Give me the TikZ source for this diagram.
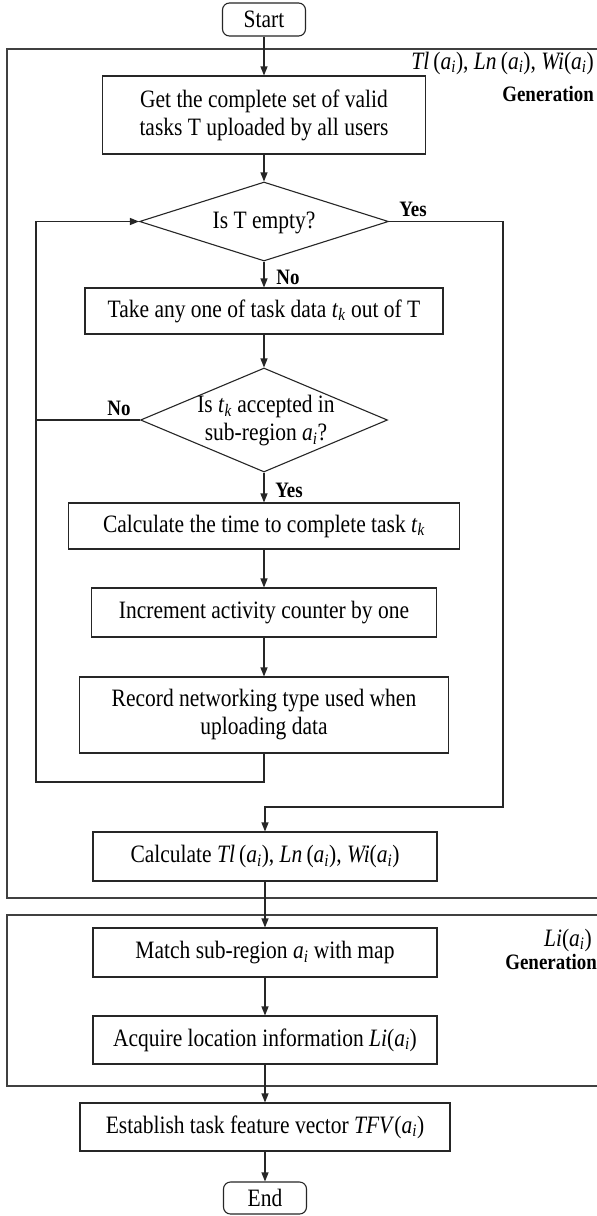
\documentclass[tikz,border=0pt]{standalone}
\usepackage{fontspec}
\setmainfont[FakeStretch=0.86]{Liberation Serif}
\usetikzlibrary{arrows.meta,shapes.geometric}
\newcommand\sv[2]{\textit{#1}\textsubscript{\textit{#2}}}
\tikzset{
  every picture/.style={line join=miter},
  box/.style={draw=black!85, line width=1.1pt, rectangle, inner sep=0pt, align=center,
    font=\fontsize{25}{28}\selectfont},
  term/.style={box, rounded corners=7pt},
  dec/.style={draw=black!85, line width=1.1pt, diamond, inner sep=0pt},
  dtext/.style={align=center, inner sep=0pt, font=\fontsize{25}{28}\selectfont},
  frame/.style={draw=black!75, line width=1.5pt},
  conn/.style={draw=black!85, line width=1.1pt},
  arr/.style={conn, -{Triangle[length=9pt,width=7pt]}},
  lab/.style={inner sep=0pt, font=\fontsize{22}{24}\selectfont\bfseries},
  rlab/.style={inner sep=0pt, anchor=east, font=\fontsize{25}{28}\selectfont},
}
\begin{document}
\begin{tikzpicture}[x=1pt,y=-1pt]
\useasboundingbox (0,0) rectangle (597,1216);
\clip (0,0) rectangle (597,1216);
\fill[white] (0,0) rectangle (597,1216);

% frames
\draw[frame] (620,49) -- (7,49) -- (7,898) -- (620,898);
\draw[frame] (620,915) -- (7,915) -- (7,1086) -- (620,1086);
\node[rlab] (fl1) at (594,63) {\textit{Tl}\,(\sv{a}{i}), \textit{Ln}\,(\sv{a}{i}), \textit{Wi}(\sv{a}{i})};
\node[rlab, font=\fontsize{22}{24}\selectfont\bfseries] (fl2) at (594,94) {Generation};
\node[rlab] (fl3) at (592,940) {\textit{Li}(\sv{a}{i})};
\node[rlab, font=\fontsize{22}{24}\selectfont\bfseries] (fl4) at (597,962) {Generation};

% nodes
\node[term, minimum width=83, minimum height=33] (start) at (264,19.5) {Start};
\node[box, minimum width=323, minimum height=78] (get) at (264,115) {Get the complete set of valid\\tasks T uploaded by all users};
\node[dec, minimum width=249, minimum height=79] (d1) at (264,221.5) {};
\node[dtext] (d1t) at (264,223) {Is T empty?};
\node[box, minimum width=358, minimum height=46] (take) at (264,311) {Take any one of task data \sv{t}{k} out of T};
\node[dec, minimum width=247, minimum height=104] (d2) at (264,420) {};
\node[dtext] (d2t) at (266,421) {Is \sv{t}{k} accepted in\\sub-region \sv{a}{i}?};
\node[box, minimum width=391, minimum height=46] (calc) at (264,526) {Calculate the time to complete task \sv{t}{k}};
\node[box, minimum width=345, minimum height=49] (inc) at (264,612.5) {Increment activity counter by one};
\node[box, minimum width=369, minimum height=76] (rec) at (264,715) {Record networking type used when\\uploading data};
\node[box, minimum width=344, minimum height=49] (ctl) at (265,856.5) {Calculate \textit{Tl}\,(\sv{a}{i}), \textit{Ln}\,(\sv{a}{i}), \textit{Wi}(\sv{a}{i})};
\node[box, minimum width=344, minimum height=49] (match) at (265,952.5) {Match sub-region \sv{a}{i} with map};
\node[box, minimum width=344, minimum height=48] (acq) at (265,1040) {Acquire location information \textit{Li}(\sv{a}{i})};
\node[box, minimum width=370, minimum height=48] (est) at (265,1127) {Establish task feature vector \textit{TFV}(\sv{a}{i})};
\node[term, minimum width=83, minimum height=32] (end) at (265,1198) {End};

% helper coordinates
\coordinate (lb) at (36,782);
\coordinate (yr) at (503,807);

% connectors
\draw[arr] (start.south) -- (get.north);
\draw[arr] (get.south) -- (d1.north);
\draw[arr] (d1.south) -- (take.north);
\draw[arr] (take.south) -- (d2.north);
\draw[arr] (d2.south) -- (calc.north);
\draw[arr] (calc.south) -- (inc.north);
\draw[arr] (inc.south) -- (rec.north);
\draw[arr] (rec.south) |- (lb) |- (d1.west);
\draw[conn] (d2.west) -- (d2.west -| lb);
\draw[arr] (d1.east) -| (yr) -| (ctl.north);
\draw[arr] (ctl.south) -- (match.north);
\draw[arr] (match.south) -- (acq.north);
\draw[arr] (acq.south) -- (est.north);
\draw[arr] (est.south) -- (end.north);

% branch labels
\node[lab] (y1) at (413,209) {Yes};
\node[lab] (n1) at (288,277) {No};
\node[lab] (n2) at (119,408) {No};
\node[lab] (y2) at (289,490) {Yes};
\end{tikzpicture}
\end{document}
